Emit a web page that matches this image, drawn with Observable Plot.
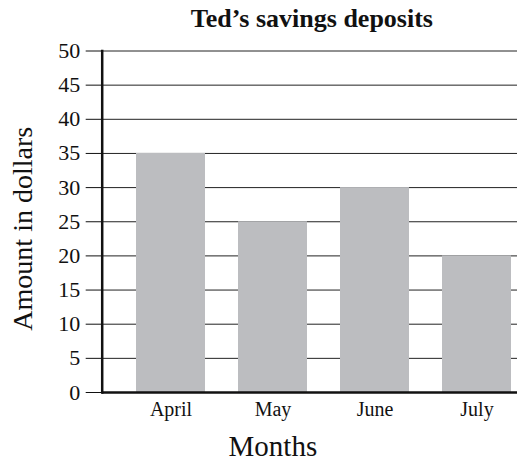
<!DOCTYPE html>
<html><head><meta charset="utf-8">
<script src="https://cdn.jsdelivr.net/npm/d3@7"></script>
<script src="https://cdn.jsdelivr.net/npm/@observablehq/plot@0.6"></script>
<style>body{margin:0;background:#fff}</style>
</head><body><div id="chart"></div>
<script>
const months = ["April", "May", "June", "July"];
const amounts = [35, 25, 30, 20];
const yTicks = [0, 5, 10, 15, 20, 25, 30, 35, 40, 45, 50];
const titleText = "Ted’s savings deposits";
const xTitle = "Months";
const yTitle = "Amount in dollars";

const data = months.map((m, i) => ({month: m, amount: amounts[i]}));
const font = "'Liberation Serif', 'DejaVu Serif', serif";

const chart = Plot.plot({
  width: 517,
  height: 461,
  marginLeft: 101.7,
  marginRight: 0,
  marginTop: 50.5,
  marginBottom: 69,
  style: {fontFamily: font, background: "white", color: "#111", overflow: "visible"},
  x: {domain: months, range: [101.7, 546], paddingInner: 0.32, paddingOuter: 0.336, label: null},
  y: {domain: [0, 50], label: null},
  marks: [
    Plot.ruleY(yTicks.filter(d => d > 0), {stroke: "#222", strokeWidth: 1}),
    Plot.barY(data, {x: "month", y: "amount", fill: "#bcbdc0"}),
    Plot.axisY({ticks: yTicks, tickSize: 16, tickPadding: 6, fontSize: 22, stroke: "#111", fill: "#111", label: null}),
    Plot.axisX({tickSize: 0, tickPadding: 9, fontSize: 20, fill: "#111", label: null}),
    Plot.ruleY([0], {stroke: "#111", strokeWidth: 2.5}),
    Plot.frame({anchor: "left", stroke: "#111", strokeWidth: 2.5}),
    Plot.text([titleText], {frameAnchor: "top", textAnchor: "middle", dx: 2, dy: -24.5, lineAnchor: "bottom", fontSize: 26, fontWeight: "bold", fill: "#111"}),
    Plot.text([xTitle], {frameAnchor: "bottom", textAnchor: "middle", dx: -37, dy: 63, lineAnchor: "bottom", fontSize: 29, fill: "#111"}),
    Plot.text([yTitle], {frameAnchor: "left", textAnchor: "middle", dx: -79, dy: 7, rotate: -90, fontSize: 28, fill: "#111"})
  ]
});
document.getElementById("chart").appendChild(chart);
</script>
</body></html>
